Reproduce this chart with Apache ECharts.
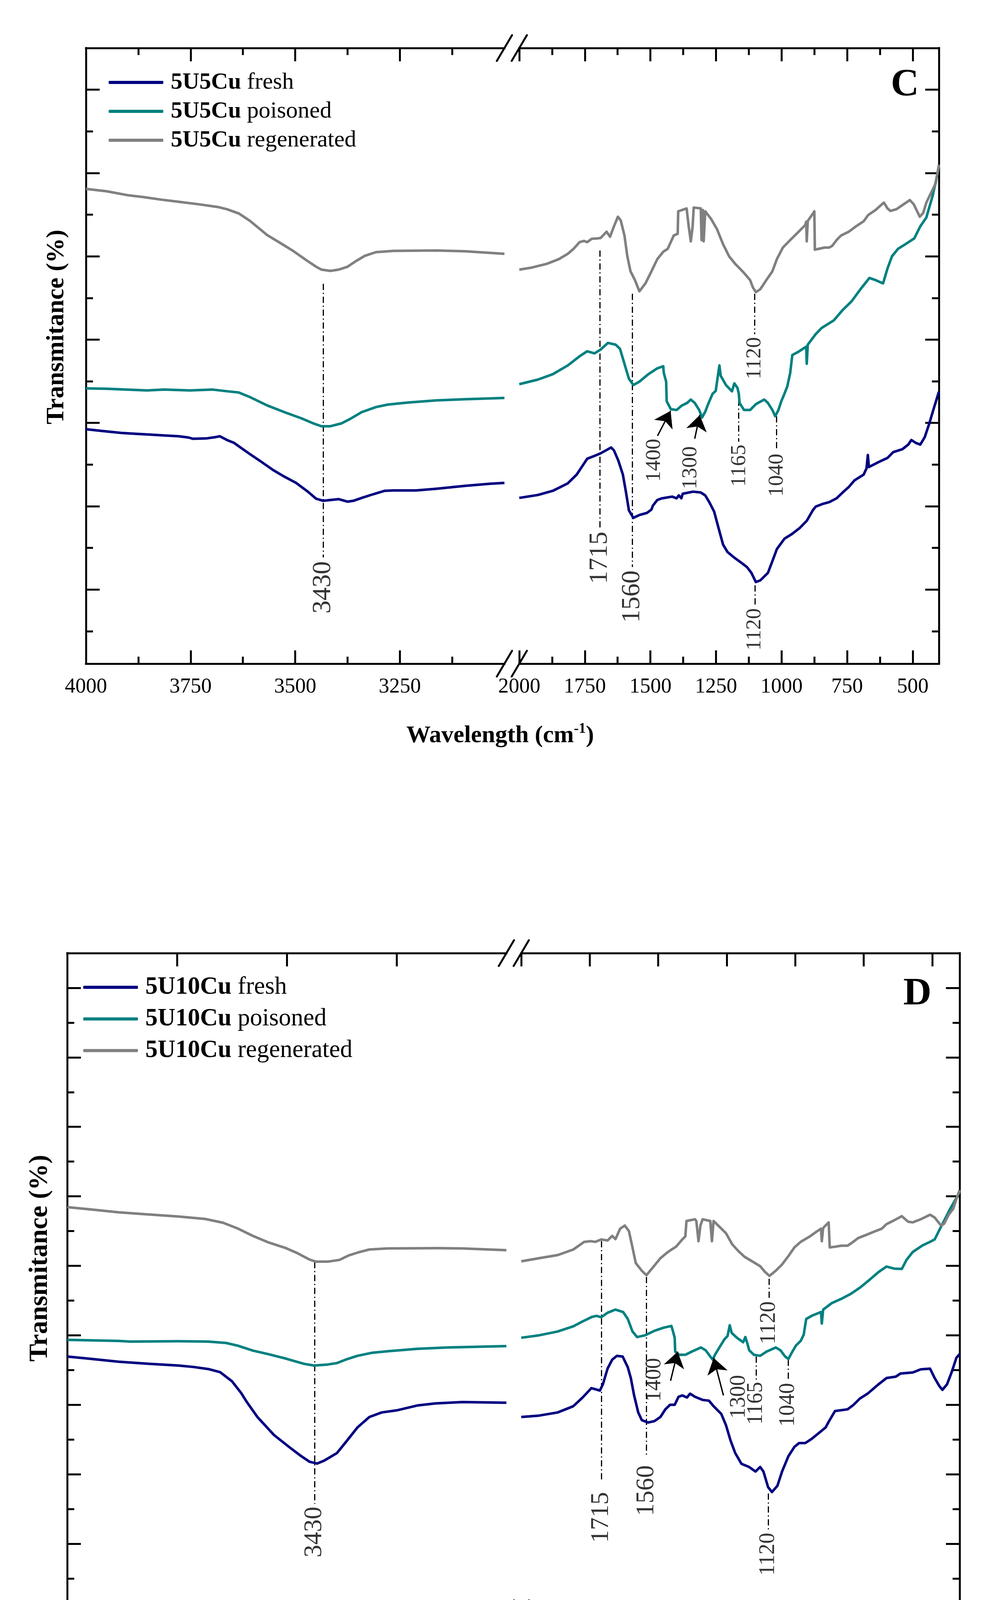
<!DOCTYPE html>
<html><head><meta charset="utf-8">
<script src="https://cdn.jsdelivr.net/npm/echarts@6/dist/echarts.min.js"></script>
<style>html,body{margin:0;padding:0;background:#fff}#c{width:2567px;height:4373px}</style>
</head><body><div id="c"></div>
<script>
// ---------------- DATA ----------------
// x tick values
const xMajorHigh = [4000, 3750, 3500, 3250];
const xMinorHigh = [3875, 3625, 3375, 3125];
const xMajorLow = [2000, 1750, 1500, 1250, 1000, 750, 500];
const xMinorLow = [1875, 1625, 1375, 1125, 875, 625];
const cYMajor = [20, 40, 60, 80, 100, 120, 140];
const cYMinor = [10, 30, 50, 70, 90, 110, 130];
const dYMajor = [20, 40, 60, 80, 100, 120, 140, 160, 180];
const dYMinor = [10, 30, 50, 70, 90, 110, 130, 150, 170];
const seriesKinds = ['fresh', 'poisoned', 'regenerated'];
const bigLabels = ['3430', '1715', '1560'];

// Panel C : 5U5Cu  (high-wavenumber segment 4000-3000, low segment 2000-400)
const cFreshHigh = [[4000,58.5],[3964,58.1],[3916,57.6],[3882,57.4],[3848,57.2],[3813,57.0],[3779,56.8],[3755,56.5],[3745,56.2],[3711,56.3],[3690,56.6],[3680,56.8],[3663,55.9],[3646,55.2],[3628,53.9],[3608,52.5],[3580,50.6],[3553,48.7],[3526,47.1],[3498,45.6],[3471,43.6],[3450,41.8],[3433,41.3],[3416,41.5],[3396,41.7],[3375,41.1],[3361,41.3],[3341,42.0],[3313,42.9],[3286,43.7],[3265,43.8],[3211,43.8],[3163,44.2],[3094,44.9],[3033,45.4],[3000,45.6]];
const cPoisonedHigh = [[4000,68.3],[3950,68.2],[3854,67.8],[3813,68.0],[3752,67.8],[3697,68.0],[3663,67.6],[3635,67.3],[3608,66.2],[3567,64.2],[3526,62.6],[3485,61.1],[3457,59.9],[3437,59.2],[3416,59.2],[3389,59.9],[3368,61.0],[3341,62.6],[3307,63.8],[3279,64.4],[3231,64.9],[3163,65.4],[3094,65.7],[3000,66.0]];
const cRegeneratedHigh = [[4000,116.2],[3950,115.6],[3902,114.7],[3861,114.2],[3820,113.6],[3779,113.1],[3731,112.5],[3683,111.8],[3663,111.3],[3635,110.3],[3608,108.5],[3567,105.1],[3539,103.4],[3505,101.3],[3471,98.9],[3450,97.5],[3437,96.8],[3416,96.5],[3396,96.8],[3375,97.5],[3354,98.9],[3334,100.1],[3307,101.0],[3265,101.3],[3163,101.4],[3094,101.2],[3000,100.6]];
const cFreshLow = [[2000,42.0],[1929,42.7],[1872,43.7],[1815,45.5],[1781,47.6],[1758,49.8],[1741,51.4],[1713,52.1],[1690,52.7],[1667,53.5],[1650,54.1],[1639,53.4],[1622,50.9],[1605,47.6],[1593,43.3],[1582,39.0],[1565,37.2],[1542,37.9],[1513,38.4],[1496,39.2],[1491,40.1],[1474,41.5],[1456,41.9],[1417,42.3],[1400,41.9],[1392,42.6],[1382,41.9],[1377,43.0],[1337,43.5],[1308,43.3],[1291,42.6],[1274,40.8],[1257,38.7],[1240,34.7],[1223,30.8],[1206,29.0],[1177,27.5],[1155,26.5],[1132,25.4],[1115,24.0],[1098,21.8],[1081,22.2],[1052,24.0],[1035,26.8],[1018,29.7],[989,32.2],[961,33.3],[932,34.7],[904,36.5],[881,39.0],[870,39.9],[841,40.6],[818,41.0],[790,41.9],[767,43.3],[744,44.6],[722,46.2],[687,47.6],[676,49.1],[671,52.3],[667,49.4],[630,50.6],[596,51.6],[574,53.0],[539,53.7],[517,54.8],[505,55.9],[488,55.2],[471,54.8],[454,56.6],[437,59.8],[420,63.4],[400,67.5]];
const cPoisonedLow = [[2000,69.3],[1929,70.4],[1872,71.7],[1815,73.8],[1770,76.0],[1741,77.2],[1713,76.7],[1690,77.6],[1662,79.2],[1633,78.8],[1616,77.8],[1599,74.2],[1582,70.6],[1565,69.1],[1542,69.9],[1508,71.7],[1474,73.1],[1451,73.6],[1449,72.0],[1440,69.9],[1438,65.2],[1422,63.3],[1400,63.1],[1382,64.1],[1360,64.8],[1346,65.6],[1331,64.8],[1314,63.1],[1303,61.3],[1291,62.7],[1280,64.5],[1263,67.0],[1251,67.7],[1246,69.9],[1237,73.8],[1232,71.3],[1212,69.1],[1189,67.6],[1180,69.5],[1168,68.4],[1163,67.0],[1160,64.8],[1143,63.1],[1120,63.1],[1098,64.5],[1066,65.6],[1052,64.8],[1035,63.1],[1024,61.6],[1012,63.1],[1001,65.2],[989,67.0],[978,68.8],[967,72.0],[959,76.3],[938,77.0],[906,78.3],[904,74.2],[900,78.8],[870,81.3],[847,82.8],[801,84.6],[767,87.1],[733,89.2],[699,92.1],[665,94.8],[642,94.3],[613,93.5],[596,97.1],[579,100.0],[556,101.8],[528,102.9],[494,104.3],[471,107.2],[448,109.3],[425,114.3],[412,117.9],[400,121.6]];
const cRegeneratedLow = [[2000,96.8],[1952,97.3],[1895,98.2],[1850,99.3],[1815,100.6],[1793,101.8],[1770,103.4],[1753,103.7],[1741,103.4],[1724,104.2],[1701,104.3],[1690,104.4],[1667,105.9],[1654,104.7],[1639,107.2],[1624,109.5],[1613,108.6],[1599,105.0],[1588,100.0],[1576,96.4],[1559,94.3],[1542,91.6],[1519,93.5],[1496,96.4],[1474,99.3],[1451,101.1],[1434,101.8],[1411,105.0],[1396,105.4],[1394,110.8],[1362,111.5],[1354,107.2],[1346,103.6],[1339,107.2],[1335,111.7],[1308,111.5],[1305,103.9],[1300,111.1],[1297,103.6],[1291,110.8],[1269,109.0],[1246,106.5],[1223,102.9],[1200,100.0],[1177,98.2],[1143,96.0],[1120,94.3],[1109,92.5],[1098,91.4],[1081,92.1],[1058,94.3],[1035,96.4],[1018,99.3],[995,102.1],[967,103.9],[938,105.7],[910,107.5],[906,108.3],[904,103.6],[900,108.5],[881,110.2],[875,110.8],[873,101.6],[858,101.8],[836,102.1],[818,102.1],[807,102.5],[790,103.9],[773,105.0],[744,105.9],[716,107.2],[687,108.4],[670,109.9],[642,111.1],[610,112.9],[596,111.5],[585,110.9],[562,111.3],[539,112.3],[511,113.5],[496,112.5],[473,109.5],[460,110.4],[448,112.9],[431,115.1],[420,116.5],[412,117.6],[400,122.0]];
// peak marker lines [x, yFrom, yTo], labels [x, yTop, text], arrows [x1,y1,x2,y2]
const cPeakLinesHigh = [[3433, 93.4, 27.7]];
const cPeakLinesLow = [[1692, 101.4, 34.7], [1569, 91.0, 25.4], [1103, 91.0, 81.3], [1164, 65.6, 55.5], [1020, 61.6, 53.4], [1102, 21.0, 16.2]];
const cPeakLabelsHigh = [[3433, 26.8, '3430']];
const cPeakLabelsLow = [[1692, 33.9, '1715'], [1569, 24.6, '1560'], [1103, 80.6, '1120'], [1160, 54.8, '1165'], [1018, 52.6, '1040'], [1102, 15.5, '1120'], [1485, 56.2, '1400'], [1346, 54.4, '1300']];
const cArrows = [[1473, 56.9, 1423, 62.9], [1331, 56.2, 1312, 61.9]];

// Panel D : 5U10Cu
const dFreshHigh = [[4000,73.9],[3952,73.3],[3883,72.4],[3815,71.8],[3747,71.3],[3713,70.9],[3679,70.3],[3652,69.4],[3625,66.8],[3604,63.4],[3591,60.8],[3567,56.5],[3529,51.3],[3495,47.9],[3468,45.3],[3448,43.6],[3431,43.1],[3414,44.0],[3386,46.1],[3366,49.2],[3339,53.5],[3312,56.5],[3284,57.8],[3250,58.4],[3203,59.8],[3162,60.4],[3100,60.8],[3000,60.6]];
const dPoisonedHigh = [[4000,78.7],[3883,78.4],[3856,78.2],[3747,78.3],[3679,78.2],[3638,77.8],[3611,77.0],[3577,75.6],[3543,74.6],[3502,73.3],[3461,71.8],[3438,71.3],[3407,71.6],[3386,72.0],[3366,73.0],[3339,74.1],[3305,75.0],[3271,75.4],[3203,76.1],[3134,76.5],[3000,76.9]];
const dRegeneratedHigh = [[4000,116.9],[3952,116.3],[3883,115.4],[3815,114.8],[3747,114.2],[3686,113.5],[3645,112.4],[3611,110.7],[3577,108.6],[3543,106.8],[3502,105.1],[3475,103.6],[3448,101.8],[3434,101.2],[3407,101.2],[3380,101.7],[3359,103.0],[3339,103.8],[3312,104.7],[3271,105.0],[3155,105.1],[3100,105.0],[3000,104.5]];
const dFreshLow = [[2000,56.5],[1935,56.9],[1867,57.8],[1810,59.6],[1776,62.1],[1744,64.8],[1730,64.5],[1713,64.1],[1702,65.9],[1685,70.4],[1668,73.0],[1651,74.1],[1630,73.9],[1611,70.8],[1600,67.7],[1588,62.7],[1573,57.8],[1560,55.6],[1537,54.9],[1514,55.3],[1492,56.5],[1474,58.7],[1457,60.0],[1440,60.0],[1426,62.3],[1412,62.7],[1395,62.1],[1384,63.2],[1366,62.3],[1338,61.4],[1315,61.2],[1298,59.6],[1270,57.4],[1253,54.2],[1236,49.7],[1219,46.1],[1196,43.0],[1168,42.1],[1145,40.8],[1128,42.1],[1116,40.8],[1099,36.3],[1085,34.9],[1065,36.7],[1048,40.8],[1025,45.2],[1003,47.9],[986,49.0],[963,49.0],[940,50.2],[912,52.0],[889,53.5],[878,55.1],[855,58.2],[809,58.7],[787,60.0],[764,61.8],[736,63.2],[696,65.9],[667,67.7],[633,68.1],[616,69.0],[571,69.3],[542,70.2],[508,70.4],[491,67.7],[474,65.4],[463,64.3],[446,65.9],[429,69.4],[412,73.5],[400,74.6]];
const dPoisonedLow = [[2000,79.3],[1935,80.0],[1867,81.1],[1810,82.6],[1776,84.0],[1742,85.3],[1725,85.6],[1708,85.2],[1685,86.5],[1656,87.4],[1628,86.7],[1611,84.7],[1594,81.1],[1577,79.5],[1548,80.0],[1514,81.3],[1480,82.2],[1452,82.7],[1446,81.1],[1440,79.3],[1438,75.3],[1423,74.4],[1401,74.4],[1378,75.3],[1344,76.5],[1327,75.7],[1310,73.9],[1301,73.0],[1293,74.4],[1276,76.6],[1258,78.9],[1247,79.8],[1239,82.9],[1232,80.7],[1213,79.3],[1190,78.0],[1182,79.5],[1176,78.0],[1168,75.7],[1151,74.4],[1128,74.1],[1105,75.3],[1071,76.5],[1054,75.7],[1037,73.9],[1025,73.2],[1014,74.8],[997,77.1],[980,78.4],[969,80.2],[960,84.7],[940,85.6],[906,86.7],[903,83.4],[898,87.4],[866,89.3],[832,90.5],[798,91.9],[764,93.7],[730,95.9],[696,98.2],[667,99.8],[639,99.2],[611,99.1],[594,101.7],[571,104.0],[537,105.8],[508,106.9],[491,107.6],[474,110.3],[457,112.9],[434,116.5],[417,118.8],[400,121.3]];
const dRegeneratedLow = [[2000,101.3],[1935,102.2],[1867,103.1],[1810,104.7],[1770,106.9],[1747,107.1],[1730,106.9],[1708,107.6],[1685,107.3],[1668,108.6],[1656,107.7],[1639,110.7],[1622,111.6],[1607,110.0],[1594,105.3],[1582,100.8],[1560,98.6],[1543,97.3],[1520,99.5],[1492,102.2],[1469,103.7],[1457,104.4],[1435,105.5],[1412,107.6],[1401,108.5],[1397,112.9],[1366,113.4],[1361,112.9],[1353,107.1],[1346,111.6],[1338,113.4],[1310,112.9],[1304,107.1],[1298,112.9],[1276,111.2],[1253,109.4],[1230,106.2],[1207,104.2],[1185,102.6],[1151,101.0],[1128,99.9],[1111,98.3],[1094,97.1],[1071,98.6],[1048,100.4],[1025,102.8],[1003,105.3],[980,106.9],[946,108.5],[923,109.8],[906,110.7],[903,107.1],[898,110.9],[878,112.5],[874,105.3],[855,105.5],[832,105.8],[809,105.8],[792,106.7],[770,108.0],[741,108.9],[713,109.8],[684,110.7],[667,112.0],[639,113.1],[611,114.3],[588,112.7],[571,112.5],[542,113.4],[508,114.7],[491,113.9],[468,111.6],[457,112.1],[440,114.7],[423,116.5],[412,119.2],[400,121.8]];
const dPeakLinesHigh = [[3437, 101.1, 31.5]];
const dPeakLinesLow = [[1708, 107.1, 38.1], [1543, 96.8, 45.2], [1096, 96.3, 90.1], [1143, 73.9, 67.2], [1025, 73.0, 66.8], [1099, 34.5, 23.7]];
const dPeakLabelsHigh = [[3437, 30.7, '3430']];
const dPeakLabelsLow = [[1708, 34.9, '1715'], [1543, 42.6, '1560'], [1096, 89.8, '1120'], [1143, 66.6, '1165'], [1025, 66.3, '1040'], [1099, 23.2, '1120'], [1514, 73.5, '1400'], [1205, 68.6, '1300']];
const dArrows = [[1455, 66.9, 1429, 75.3], [1262, 62.7, 1298, 73.5]];

// ---------------- CHART ----------------
const F = '"Liberation Serif", "Times New Roman", Times, serif';
const COLORS = {fresh: '#000080', poisoned: '#008080', regenerated: '#808080'};

const panels = [
  {sample: '5U5Cu', letter: 'C', L1: 220, R1: 1291, L2: 1329, R2: 2403, top: 123, bottom: 1699,
   yRange: [2.2, 150], yMajor: cYMajor, yMinor: cYMinor,
   high: [cFreshHigh, cPoisonedHigh, cRegeneratedHigh], low: [cFreshLow, cPoisonedLow, cRegeneratedLow],
   linesHigh: cPeakLinesHigh, linesLow: cPeakLinesLow, labelsHigh: cPeakLabelsHigh, labelsLow: cPeakLabelsLow, arrows: cArrows,
   tickFs: 54, labelMargin: 33, bigFs: 67, smallFs: 55, legFs: 60, legLH: 64, legGap: 14, legLeft: 278, legTop: 181,
   letterPos: [2352, 218], yTitle: [145, 837, 64], xTitle: [1280, 1884, 62]},
  {sample: '5U10Cu', letter: 'D', L1: 172, R1: 1296, L2: 1334, R2: 2456, top: 2440, bottom: 4130,
   yRange: [0, 190], yMajor: dYMajor, yMinor: dYMinor,
   high: [dFreshHigh, dPoisonedHigh, dRegeneratedHigh], low: [dFreshLow, dPoisonedLow, dRegeneratedLow],
   linesHigh: dPeakLinesHigh, linesLow: dPeakLinesLow, labelsHigh: dPeakLabelsHigh, labelsLow: dPeakLabelsLow, arrows: dArrows,
   tickFs: 57, labelMargin: 34, bigFs: 65, smallFs: 56, legFs: 63, legLH: 66, legGap: 18, legLeft: 213, legTop: 2496,
   letterPos: [2384, 2545], yTitle: [102, 3221, 68], xTitle: [1315, 4274, 65]}
];

const option = {animation: false, backgroundColor: '#fff', grid: [], xAxis: [], yAxis: [], series: [], legend: [], graphic: []};
const AXLINE = {show: true, onZero: false, lineStyle: {color: '#000', width: 5, cap: 'square'}};
function ticks(len, vals) {
  return {show: true, inside: true, length: len, customValues: vals, lineStyle: {color: '#000', width: 5}};
}

panels.forEach(P => {
  const segs = [
    {L: P.L1, R: P.R1, min: 3000, max: 4000, maj: xMajorHigh, mnr: xMinorHigh, side: 'left', data: P.high, lines: P.linesHigh, labels: P.labelsHigh, arrows: []},
    {L: P.L2, R: P.R2, min: 400, max: 2000, maj: xMajorLow, mnr: xMinorLow, side: 'right', data: P.low, lines: P.linesLow, labels: P.labelsLow, arrows: P.arrows}
  ];
  segs.forEach(s => {
    const gi = option.grid.length;
    option.grid.push({left: s.L, top: P.top, width: s.R - s.L, height: P.bottom - P.top, containLabel: false, outerBoundsMode: 'none'});
    const xi = option.xAxis.length;
    const bx = {type: 'value', gridIndex: gi, min: s.min, max: s.max, inverse: true, splitLine: {show: false}, minorTick: {show: false}};
    option.xAxis.push(Object.assign({}, bx, {position: 'bottom', axisLine: AXLINE, axisTick: ticks(34, s.maj),
      axisLabel: {show: true, customValues: s.maj, formatter: v => String(v), color: '#000', fontFamily: F, fontSize: P.tickFs, margin: P.labelMargin}}));
    option.xAxis.push(Object.assign({}, bx, {position: 'bottom', axisLine: {show: false}, axisTick: ticks(18, s.mnr), axisLabel: {show: false}}));
    option.xAxis.push(Object.assign({}, bx, {position: 'top', axisLine: AXLINE, axisTick: ticks(34, s.maj), axisLabel: {show: false}}));
    option.xAxis.push(Object.assign({}, bx, {position: 'top', axisLine: {show: false}, axisTick: ticks(18, s.mnr), axisLabel: {show: false}}));
    const yi = option.yAxis.length;
    const by = {type: 'value', gridIndex: gi, min: P.yRange[0], max: P.yRange[1], position: s.side, splitLine: {show: false}, axisLabel: {show: false}, minorTick: {show: false}};
    option.yAxis.push(Object.assign({}, by, {axisLine: AXLINE, axisTick: ticks(35, P.yMajor)}));
    option.yAxis.push(Object.assign({}, by, {axisLine: {show: false}, axisTick: ticks(18, P.yMinor)}));

    seriesKinds.forEach((k, i) => {
      option.series.push({type: 'line', name: P.sample + ' ' + k, xAxisIndex: xi, yAxisIndex: yi, data: s.data[i],
        showSymbol: false, symbol: 'none', color: COLORS[k], itemStyle: {color: COLORS[k]},
        lineStyle: {color: COLORS[k], width: 6.5, join: 'round'}, silent: true, z: 3});
    });
    option.series.push({type: 'lines', coordinateSystem: 'cartesian2d', xAxisIndex: xi, yAxisIndex: yi, silent: true, z: 2,
      data: s.lines.map(l => ({coords: [[l[0], l[1]], [l[0], l[2]]]})),
      symbol: 'none', lineStyle: {color: '#000', width: 3, type: [16, 7, 3, 7], opacity: 1}});
    if (s.arrows.length) {
      option.series.push({type: 'lines', coordinateSystem: 'cartesian2d', xAxisIndex: xi, yAxisIndex: yi, silent: true, z: 4,
        data: s.arrows.map(a => ({coords: [[a[0], a[1]], [a[2], a[3]]]})),
        symbol: ['none', 'arrow'], symbolSize: [1, 40], lineStyle: {color: '#000', width: 3.5, opacity: 1}, itemStyle: {color: '#000'}});
    }
    option.series.push({type: 'scatter', xAxisIndex: xi, yAxisIndex: yi, silent: true, symbolSize: 1, z: 5,
      itemStyle: {color: 'rgba(0,0,0,0)'},
      data: s.labels.map(l => ({value: [l[0], l[1]], label: {formatter: l[2], fontSize: bigLabels.includes(l[2]) ? P.bigFs : P.smallFs}})),
      label: {show: true, position: 'inside', rotate: 90, align: 'right', verticalAlign: 'middle', color: '#000', fontFamily: F}});
  });

  option.legend.push({orient: 'vertical', left: P.legLeft, top: P.legTop, padding: 0, itemGap: P.legGap,
    itemWidth: 140, itemHeight: 8, icon: 'roundRect', selectedMode: false,
    data: seriesKinds.map(k => P.sample + ' ' + k),
    formatter: n => '{b|' + P.sample + '}{r| ' + n.slice(P.sample.length + 1) + '}',
    textStyle: {padding: [0, 0, 0, 14], rich: {
      b: {fontFamily: F, fontWeight: 'bold', fontSize: P.legFs, color: '#000', lineHeight: P.legLH},
      r: {fontFamily: F, fontSize: P.legFs, color: '#000', lineHeight: P.legLH}}}});

  // axis break marks
  [[P.R1, P.top], [P.L2, P.top], [P.R1, P.bottom], [P.L2, P.bottom]].forEach(c => {
    option.graphic.push({type: 'line', silent: true, z: 100,
      shape: {x1: c[0] - 19.5, y1: c[1] + 33, x2: c[0] + 19.5, y2: c[1] - 33},
      style: {stroke: '#000', lineWidth: 5, lineCap: 'round'}});
  });
  // panel letter
  option.graphic.push({type: 'text', x: P.letterPos[0], y: P.letterPos[1], silent: true, z: 100,
    style: {text: P.letter, fontFamily: F, fontWeight: 'bold', fontSize: 100, fill: '#000',
      align: 'right', verticalAlign: 'middle', textAlign: 'right', textVerticalAlign: 'middle'}});
  // y title
  option.graphic.push({type: 'text', x: P.yTitle[0], y: P.yTitle[1], rotation: Math.PI / 2, silent: true, z: 100,
    style: {text: 'Transmitance (%)', fontFamily: F, fontWeight: 'bold', fontSize: P.yTitle[2], fill: '#000',
      align: 'center', verticalAlign: 'middle', textAlign: 'center', textVerticalAlign: 'middle'}});
  // x title
  const xs = P.xTitle[2];
  option.graphic.push({type: 'text', x: P.xTitle[0], y: P.xTitle[1], silent: true, z: 100,
    style: {text: '{b|Wavelength (cm}{s|-1}{b|)}', fill: '#000',
      align: 'center', verticalAlign: 'middle', textAlign: 'center', textVerticalAlign: 'middle',
      rich: {b: {fontFamily: F, fontWeight: 'bold', fontSize: xs, lineHeight: xs * 1.15, fill: '#000', color: '#000'},
             s: {fontFamily: F, fontWeight: 'bold', fontSize: Math.round(xs * 0.6), verticalAlign: 'top', fill: '#000', color: '#000'}}}});
});

const chart = echarts.init(document.getElementById('c'), null, {renderer: 'canvas', width: 2567, height: 4373});
chart.setOption(option);
</script>
</body></html>
